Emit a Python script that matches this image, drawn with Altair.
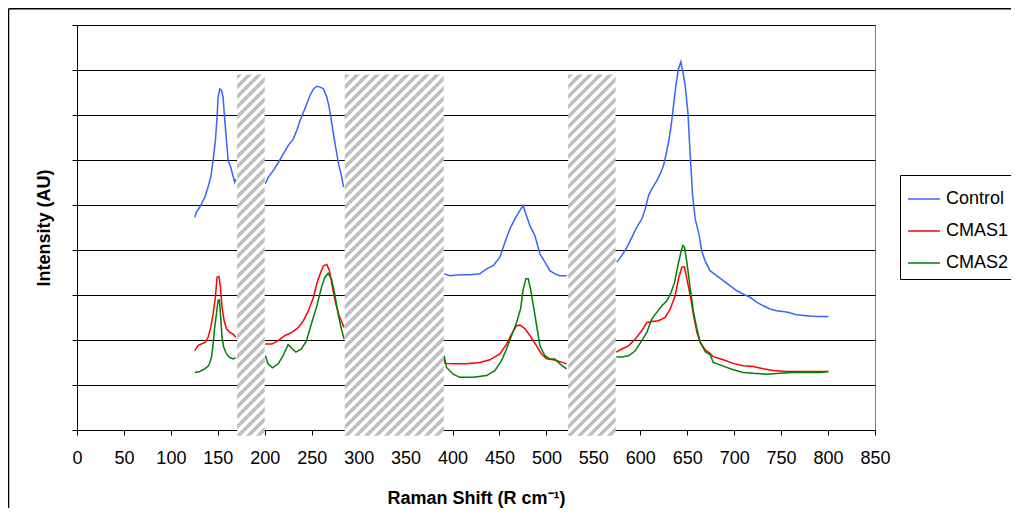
import altair as alt
import pandas as pd

# ---------------- data ----------------
series_names = ["Control", "CMAS1", "CMAS2"]
series_colors = ["#3366FF", "#FF0000", "#008000"]

# excluded (hatched) Raman-shift windows
hatch_start = [170.5, 285.2, 523.2]
hatch_end = [200.0, 390.7, 573.7]
hatch_top = 7.9
hatch_bottom = -0.13

x_ticks = list(range(0, 851, 25))
y_ticks = [i * 0.5 for i in range(19)]

control_x = [125.4, 127.2, 130.7, 134.3, 136.1, 139.6, 142.5, 145.0, 147.4, 149.2, 150.3, 152.1, 153.8, 155.6, 157.4, 159.2, 161.0, 163.8, 165.6, 168.0, 169.1,
             200.4, 203.9, 209.2, 214.6, 219.9, 225.2, 230.5, 234.1, 237.6, 241.2, 244.8, 248.3, 251.9, 255.4, 259.0, 262.5, 266.1, 268.5, 271.4, 274.9, 278.5, 282.0, 283.8,
             391.0, 397.2, 407.8, 418.5, 429.1, 436.2, 443.3, 450.4, 455.8, 461.1, 466.4, 471.8, 475.3, 478.1, 482.4, 487.7, 493.1, 498.4, 503.7, 509.0, 514.4, 521.5,
             575.0, 580.4, 585.7, 591.0, 596.3, 601.7, 605.2, 608.8, 612.3, 617.7, 621.2, 624.8, 627.2, 630.1, 632.9, 635.4, 637.9, 640.7, 643.2, 645.4, 647.8, 650.7, 653.2, 655.7, 658.5, 662.8, 665.3, 668.8, 674.2, 681.3, 688.4, 695.5, 702.6, 709.7, 716.8, 723.9, 731.0, 738.1, 745.2, 755.9, 766.5, 777.2, 787.8, 800.3]
control_y = [4.73, 4.84, 4.95, 5.10, 5.17, 5.40, 5.62, 5.99, 6.43, 6.95, 7.40, 7.58, 7.55, 7.40, 6.88, 6.43, 5.99, 5.84, 5.69, 5.51, 5.58,
             5.47, 5.62, 5.77, 5.95, 6.14, 6.33, 6.47, 6.66, 6.88, 7.06, 7.25, 7.44, 7.58, 7.64, 7.62, 7.58, 7.40, 7.18, 6.81, 6.36, 5.92, 5.62, 5.40,
             3.47, 3.43, 3.45, 3.45, 3.47, 3.58, 3.65, 3.84, 4.17, 4.47, 4.69, 4.88, 4.99, 4.80, 4.54, 4.32, 3.91, 3.73, 3.54, 3.47, 3.43, 3.43,
             3.73, 3.88, 4.06, 4.28, 4.51, 4.69, 4.91, 5.21, 5.36, 5.54, 5.69, 5.88, 6.10, 6.40, 6.77, 7.21, 7.66, 8.03, 8.18, 7.95, 7.66, 7.06, 6.10, 5.21, 4.69, 4.32, 3.99, 3.77, 3.54, 3.43, 3.32, 3.21, 3.10, 3.02, 2.95, 2.84, 2.76, 2.69, 2.65, 2.62, 2.56, 2.54, 2.52, 2.52]

cmas1_x = [125.4, 129.0, 132.5, 136.8, 139.6, 142.5, 145.0, 147.4, 149.2, 151.3, 152.8, 154.5, 156.7, 159.2, 162.7, 166.3, 169.1,
           200.4, 207.5, 214.6, 221.7, 228.8, 235.9, 241.2, 246.5, 251.9, 255.4, 259.0, 262.5, 266.1, 268.9, 272.1, 275.7, 279.2, 282.8, 284.5,
           391.0, 392.0, 400.7, 414.9, 429.1, 439.8, 450.4, 457.5, 462.9, 468.2, 471.8, 477.1, 482.4, 489.5, 494.8, 500.2, 507.3, 514.4, 521.5,
           574.5, 580.4, 587.5, 594.6, 601.7, 607.0, 612.3, 619.4, 626.5, 631.9, 637.2, 640.7, 644.3, 647.1, 649.6, 653.2, 656.7, 660.3, 663.8, 669.2, 674.5, 677.7, 688.4, 699.0, 709.7, 720.3, 731.0, 741.6, 755.9, 770.1, 784.3, 800.3]
cmas1_y = [1.76, 1.88, 1.91, 1.95, 2.06, 2.28, 2.58, 2.95, 3.40, 3.41, 3.17, 2.73, 2.43, 2.25, 2.17, 2.13, 2.06,
           1.91, 1.91, 1.99, 2.10, 2.17, 2.28, 2.43, 2.65, 2.95, 3.25, 3.47, 3.65, 3.68, 3.54, 3.17, 2.80, 2.54, 2.36, 2.28,
           1.58, 1.48, 1.47, 1.47, 1.50, 1.56, 1.69, 1.91, 2.13, 2.32, 2.33, 2.25, 2.10, 1.87, 1.69, 1.58, 1.56, 1.52, 1.47,
           1.73, 1.80, 1.87, 2.02, 2.21, 2.39, 2.41, 2.43, 2.50, 2.69, 2.99, 3.36, 3.62, 3.62, 3.36, 2.99, 2.54, 2.17, 1.95, 1.78, 1.70, 1.63, 1.56, 1.48, 1.43, 1.41, 1.36, 1.32, 1.30, 1.30, 1.30, 1.30]

cmas2_x = [125.4, 130.7, 136.1, 140.3, 143.2, 145.0, 146.7, 148.5, 150.3, 151.7, 152.8, 154.5, 156.3, 159.2, 162.7, 166.3, 169.1,
           200.7, 203.5, 208.2, 214.3, 219.6, 224.9, 229.5, 233.1, 239.1, 244.4, 249.7, 255.1, 260.4, 263.9, 267.5, 271.0, 274.6, 278.1, 281.7, 284.5,
           391.0, 393.6, 400.7, 407.8, 422.0, 436.2, 445.1, 452.2, 457.5, 462.9, 468.2, 472.5, 475.3, 478.1, 480.6, 483.1, 486.7, 490.2, 493.1, 498.4, 503.7, 509.0, 514.4, 521.5,
           574.5, 580.4, 587.5, 594.6, 601.7, 607.0, 612.3, 617.7, 623.0, 628.3, 632.9, 636.5, 640.0, 643.2, 645.4, 647.1, 649.6, 653.2, 656.7, 660.3, 663.8, 669.2, 674.5, 677.7, 688.4, 699.0, 709.7, 720.3, 734.5, 748.7, 763.0, 777.2, 791.4, 800.3]
cmas2_y = [1.28, 1.30, 1.36, 1.43, 1.61, 1.91, 2.28, 2.58, 2.88, 2.89, 2.58, 2.06, 1.84, 1.69, 1.61, 1.58, 1.61,
           1.65, 1.47, 1.38, 1.47, 1.65, 1.90, 1.80, 1.73, 1.80, 1.98, 2.36, 2.73, 3.17, 3.39, 3.48, 3.36, 3.02, 2.58, 2.24, 2.02,
           1.65, 1.39, 1.24, 1.17, 1.17, 1.21, 1.32, 1.54, 1.80, 2.10, 2.39, 2.69, 3.13, 3.36, 3.36, 3.13, 2.69, 2.24, 1.87, 1.65, 1.58, 1.58, 1.47, 1.36,
           1.62, 1.62, 1.65, 1.76, 1.99, 2.17, 2.47, 2.62, 2.76, 2.87, 3.06, 3.28, 3.65, 3.95, 4.10, 4.06, 3.73, 3.14, 2.62, 2.25, 1.95, 1.74, 1.67, 1.50, 1.42, 1.34, 1.28, 1.26, 1.24, 1.26, 1.28, 1.28, 1.28, 1.30]

# ---------------- tables ----------------
rows = []
for name, xs, ys in zip(series_names, [control_x, cmas1_x, cmas2_x], [control_y, cmas1_y, cmas2_y]):
    for xv, yv in zip(xs, ys):
        seg = sum(1 for e in hatch_end if xv > e)
        rows.append({"series": name, "x": xv, "y": yv, "segment": seg})
df = pd.DataFrame(rows)

W, H = 798, 405
X_MAX, Y_MAX = 850, 9
PAD = {"left": 69, "top": 17, "right": 136, "bottom": 78}

xscale = alt.Scale(domain=[0, X_MAX], nice=False, zero=False)
yscale = alt.Scale(domain=[0, Y_MAX], nice=False, zero=False)

lines = alt.Chart(df).mark_line(strokeWidth=1.5).encode(
    x=alt.X("x:Q", scale=xscale,
            axis=alt.Axis(title="Raman Shift (R cm⁻¹)", values=x_ticks,
                          labelExpr="datum.value % 50 == 0 ? datum.label : ''",
                          grid=False, labelPadding=14, titlePadding=22, labelFlush=False)),
    y=alt.Y("y:Q", scale=yscale,
            axis=alt.Axis(title="Intensity (AU)", values=y_ticks, labels=False,
                          gridOpacity={"condition": {"test": "datum.value % 1 == 0", "value": 1}, "value": 0},
                          titlePadding=18)),
    color=alt.Color("series:N", scale=alt.Scale(domain=series_names, range=series_colors),
                    legend=alt.Legend(title=None, orient="none", legendX=823, legendY=150,
                                      symbolType="stroke", symbolSize=1024, symbolStrokeWidth=1.5,
                                      labelFontSize=18, labelFont="Liberation Sans", labelColor="black",
                                      padding=7, rowPadding=6, labelOffset=5,
                                      strokeColor="black", fillColor="white")),
    detail="segment:N",
    order="x:Q",
)


def stripe_gradient(x0, x1, y0, y1, period=10.0, gray="#C0C0C0"):
    w = (x1 - x0) * W / X_MAX
    h = (y1 - y0) * H / Y_MAX
    k = (w + h) / (w * w + h * h)
    n = (w + h) / period
    stops = []
    i = 0
    while i / n < 1:
        a = i / n
        b = min((i + 0.5) / n, 1.0)
        c = min((i + 1) / n, 1.0)
        stops += [{"offset": a, "color": gray}, {"offset": b, "color": gray},
                  {"offset": b, "color": "white"}, {"offset": c, "color": "white"}]
        i += 1
    return {"gradient": "linear", "x1": 0, "y1": 0, "x2": w * k, "y2": h * k, "stops": stops}


hatch_layers = []
for s, e in zip(hatch_start, hatch_end):
    hdf = pd.DataFrame({"x0": [s], "x1": [e], "y0": [hatch_bottom], "y1": [hatch_top]})
    hatch_layers.append(
        alt.Chart(hdf).mark_rect(fill=stripe_gradient(s, e, hatch_bottom, hatch_top), strokeWidth=0).encode(
            x=alt.X("x0:Q", scale=xscale), x2="x1:Q",
            y=alt.Y("y0:Q", scale=yscale), y2="y1:Q",
        )
    )

one = pd.DataFrame({"a": [0]})
frame_top = alt.Chart(one).mark_rule(color="black", strokeWidth=1.5).encode(
    x=alt.value(-68.5), x2=alt.value(W + 150), y=alt.value(-16.3))
frame_left = alt.Chart(one).mark_rule(color="black", strokeWidth=1.5).encode(
    x=alt.value(-68.5), y=alt.value(-16.3), y2=alt.value(H + 100))

chart = alt.layer(lines, *hatch_layers, frame_top, frame_left).properties(
    width=W, height=H,
    autosize=alt.AutoSizeParams(type="none"),
    padding=PAD,
    background="white",
).configure_view(stroke="#808080", strokeWidth=1).configure_axis(
    domainColor="black", tickColor="black", gridColor="black",
    domainWidth=1, tickWidth=1, gridWidth=1, tickSize=5,
    labelFont="Liberation Sans", titleFont="Liberation Sans",
    labelFontSize=18, titleFontSize=18, titleFontWeight="bold",
    labelColor="black", titleColor="black",
)

chart.save("out.html", embed_options={"renderer": "svg", "actions": False})
